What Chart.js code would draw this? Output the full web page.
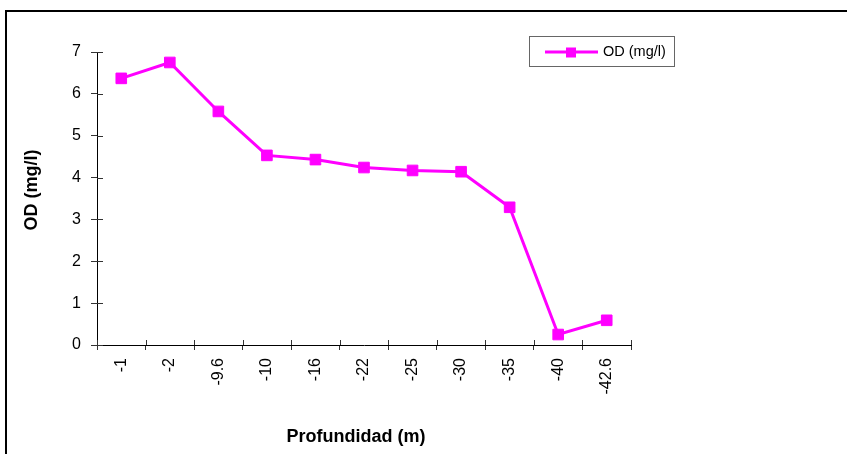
<!DOCTYPE html>
<html>
<head>
<meta charset="utf-8">
<script src="https://cdn.jsdelivr.net/npm/chart.js@4.4.1/dist/chart.umd.min.js"></script>
<style>
  html, body { margin: 0; padding: 0; background: #fff; }
  #wrap { position: relative; width: 847px; height: 454px; }
</style>
</head>
<body>
<div id="wrap"><canvas id="c" width="847" height="454"></canvas></div>
<script>
const categories = ['-1', '-2', '-9.6', '-10', '-16', '-22', '-25', '-30', '-35', '-40', '-42.6'];
const odValues = [6.37, 6.75, 5.58, 4.53, 4.43, 4.24, 4.17, 4.14, 3.29, 0.25, 0.59];
const seriesName = 'OD (mg/l)';
const yTitle = 'OD (mg/l)';
const xTitle = 'Profundidad (m)';

const FONT = "'Liberation Sans', Arial, sans-serif";
const MAG = '#FF00FF';

const framePlugin = {
  id: 'frame',
  afterDraw(chart) {
    const ctx = chart.ctx;
    ctx.save();
    ctx.strokeStyle = '#000';
    ctx.lineWidth = 2;
    ctx.beginPath();
    ctx.moveTo(6, 454);
    ctx.lineTo(6, 11);
    ctx.lineTo(847, 11);
    ctx.stroke();
    ctx.restore();
  }
};

const innerTicks = {
  id: 'innerTicks',
  afterDatasetsDraw(chart) {
    const ctx = chart.ctx;
    const xs = chart.scales.x, ys = chart.scales.y;
    ctx.save();
    ctx.strokeStyle = '#333';
    ctx.lineWidth = 1;
    ctx.beginPath();
    const n = xs.ticks.length;
    for (let i = 0; i <= n; i++) {
      const px = Math.round(xs.left + (xs.right - xs.left) * i / n) + 0.5;
      ctx.moveTo(px, ys.bottom);
      ctx.lineTo(px, ys.bottom - 5);
    }
    ys.ticks.forEach((t) => {
      const py = Math.round(ys.getPixelForValue(t.value)) + 0.5;
      ctx.moveTo(xs.left, py);
      ctx.lineTo(xs.left + 6, py);
    });
    ctx.stroke();
    ctx.restore();
  }
};

const axisTitles = {
  id: 'axisTitles',
  afterDraw(chart) {
    const ctx = chart.ctx;
    ctx.save();
    ctx.fillStyle = '#000';
    ctx.font = 'bold 18px ' + FONT;
    ctx.textAlign = 'center';
    ctx.textBaseline = 'middle';
    ctx.fillText(xTitle, 356, 437);
    ctx.translate(32, 190);
    ctx.rotate(-Math.PI / 2);
    ctx.fillText(yTitle, 0, 0);
    ctx.restore();
  }
};

const legendPlugin = {
  id: 'customLegend',
  afterDraw(chart) {
    const ctx = chart.ctx;
    const ds = chart.data.datasets[0];
    ctx.save();
    ctx.strokeStyle = '#666';
    ctx.lineWidth = 1;
    ctx.strokeRect(529.5, 36.5, 145, 30);
    ctx.strokeStyle = ds.borderColor;
    ctx.lineWidth = 3;
    ctx.beginPath();
    ctx.moveTo(545, 52);
    ctx.lineTo(598, 52);
    ctx.stroke();
    ctx.fillStyle = ds.pointBackgroundColor;
    ctx.fillRect(566, 47.5, 10, 10);
    ctx.fillStyle = '#000';
    ctx.font = '14.5px ' + FONT;
    ctx.textBaseline = 'middle';
    ctx.textAlign = 'left';
    ctx.fillText(ds.label, 603, 52);
    ctx.restore();
  }
};

new Chart(document.getElementById('c'), {
  type: 'line',
  data: {
    labels: categories,
    datasets: [{
      label: seriesName,
      data: odValues,
      borderColor: MAG,
      backgroundColor: MAG,
      pointBackgroundColor: MAG,
      pointBorderColor: MAG,
      borderWidth: 3,
      pointStyle: 'rect',
      pointRadius: 7.5,
      pointBorderWidth: 1,
      tension: 0,
      fill: false
    }]
  },
  options: {
    responsive: false,
    animation: false,
    devicePixelRatio: 1,
    layout: { padding: { left: 0, right: 216, top: 52, bottom: 0 } },
    plugins: {
      legend: { display: false },
      tooltip: { enabled: false },
      title: { display: false }
    },
    scales: {
      x: {
        type: 'category',
        offset: true,
        afterFit(scale) { scale.height = 109; },
        grid: { display: true, drawOnChartArea: false, offset: true, drawTicks: true, tickLength: 5, color: '#333' },
        border: { display: true, color: '#000', width: 1 },
        ticks: { minRotation: 90, maxRotation: 90, autoSkip: false, padding: 8, color: '#000', font: { family: FONT, size: 16 } },
        title: { display: false }
      },
      y: {
        min: 0,
        max: 7,
        afterFit(scale) { scale.width = 97; },
        grid: { display: true, drawOnChartArea: false, drawTicks: true, tickLength: 6, color: '#333' },
        border: { display: true, color: '#000', width: 1 },
        ticks: { stepSize: 1, padding: 10, color: '#000', font: { family: FONT, size: 16 } },
        title: { display: false }
      }
    }
  },
  plugins: [innerTicks, legendPlugin, axisTitles, framePlugin]
});
</script>
</body>
</html>
